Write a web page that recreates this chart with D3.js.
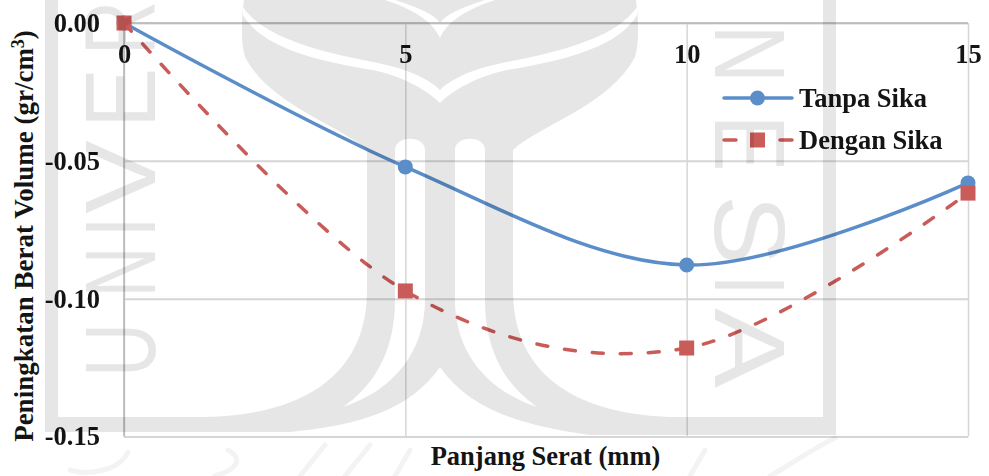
<!DOCTYPE html>
<html>
<head>
<meta charset="utf-8">
<script src="https://cdnjs.cloudflare.com/ajax/libs/d3/7.8.5/d3.min.js"></script>
<style>
  html, body { margin: 0; padding: 0; background: #fff; }
  text { font-family: "Liberation Serif", serif; font-weight: 700; fill: #141414; }
</style>
</head>
<body>
<div id="chart"></div>
<script>
var panjangSerat = [0, 5, 10, 15];
var tanpaSika = [0, -0.0522, -0.0878, -0.058];
var denganSika = [0, -0.0972, -0.1179, -0.0617];
var xTicks = [0, 5, 10, 15];
var yTicks = [0, -0.05, -0.10, -0.15];
var xTitle = "Panjang Serat (mm)";
var yTitle = "Peningkatan Berat Volume (gr/cm";
var seriesNames = ["Tanpa Sika", "Dengan Sika"];

var blue = "#5b8ec9", red = "#c95b59";
var fontSize = "26.5px";
var W = 989, H = 476;
var margin = {top: 23, right: 21, bottom: 39.5, left: 124};
var width = W - margin.left - margin.right;
var height = H - margin.top - margin.bottom;

var root = d3.select("#chart").append("svg")
    .attr("width", W)
    .attr("height", H)
    .style("display", "block");

// ---- watermark behind the chart ----
var mark = root.append("g").attr("class", "watermark");
var markColor = "#e6e6e6";

// shield, leaf and stems as one shape
mark.append("path")
  .attr("fill", markColor)
  .attr("d", "M45,0 H58 V417 H200 C280,417 367,390 367,290 V150 C340,125 270,105 245,57 C240,40 242,15 244,0 " +
             "H636 C638,15 640,40 635,57 C610,105 540,125 513,150 V290 C513,390 600,417 680,417 H823 V0 H836 V435 " +
             "H590 C520,425 470,410 440,367 C410,410 360,425 290,432 H45 Z");

// white cuts: two curves in the leaf and two slits between the stems
var cuts = [
  "M243,7 C262,35 310,50 373,62 C405,68 428,78 440,90 C452,78 475,68 507,62 C570,50 618,35 637,7 L637,15 " +
    "C620,45 570,60 507,70 C480,76 455,88 440,103 C425,88 400,76 373,70 C310,60 260,45 243,15 Z",
  "M395,0 C420,8 435,15 440,23 C445,15 460,8 485,0 H495 C465,10 447,22 440,38 C433,22 415,10 385,0 Z",
  "M395,150 C395,135 425,135 425,150 V300 C425,350 395,390 343,407 C375,385 395,350 395,300 Z",
  "M485,150 C485,135 455,135 455,150 V300 C455,350 485,390 537,407 C505,385 485,350 485,300 Z"
];
mark.selectAll("path.cut")
  .data(cuts)
  .enter()
  .append("path")
    .attr("class", "cut")
    .attr("fill", "#fff")
    .attr("d", function(d) { return d; });

// faint calligraphy under the shield
mark.append("path")
  .attr("fill", "none")
  .attr("stroke", "#f3f3f3")
  .attr("stroke-width", 5)
  .attr("stroke-linecap", "round")
  .attr("d", "M70,470 C90,476 120,470 128,452 M215,476 C235,470 245,460 228,450 M300,476 L325,445 M345,476 L370,445 " +
             "M395,476 L410,450 M690,476 L705,450 M770,476 C790,465 810,450 835,438");

// university name, letter by letter: [letter, centre along the edge, width squeeze]
var leftLetters = [["U", 350, 0.75], ["N", 272, 0.7], ["I", 227, 0.75], ["V", 177, 1.1], ["E", 98, 0.9], ["R", 28, 0.75]];
var rightLetters = [["N", 54, 0.8], ["E", 143, 0.85], ["S", 230, 1.05], ["I", 285, 0.75], ["A", 348, 1.2]];
function drawLetters(cls, letters, baseX, angle) {
  mark.selectAll("text." + cls)
    .data(letters)
    .enter()
    .append("text")
      .attr("class", cls)
      .attr("transform", function(d) {
        return "translate(" + baseX + "," + d[1] + ") rotate(" + angle + ") scale(" + d[2] + ",1)";
      })
      .attr("text-anchor", "middle")
      .style("font-family", "Liberation Sans")
      .style("font-weight", 400)
      .style("font-size", "100px")
      .style("fill", markColor)
      .text(function(d) { return d[0]; });
}
drawLetters("left", leftLetters, 155, -90);
drawLetters("right", rightLetters, 715, 90);

// everything below multiplies over the watermark, like the scanned page
var svg = root.append("g")
    .attr("transform", "translate(" + margin.left + "," + margin.top + ")")
    .style("mix-blend-mode", "multiply");

// ---- scales ----
var x = d3.scaleLinear().domain([0, 15]).range([0, width]);
var y = d3.scaleLinear().domain([0, -0.15]).range([0, height]);

// ---- grid ----
var gridX = svg.append("g")
    .call(d3.axisBottom(x).tickValues(xTicks).tickSize(height).tickFormat(""));
gridX.select(".domain").remove();
gridX.selectAll("text").remove();
gridX.selectAll("line")
    .attr("stroke", "#d6d6d6")
    .attr("stroke-width", 1.5);

var gridY = svg.append("g")
    .call(d3.axisRight(y).tickValues(yTicks).tickSize(width).tickFormat(""));
gridY.select(".domain").remove();
gridY.selectAll("text").remove();
gridY.selectAll("line")
    .attr("stroke", "#d6d6d6")
    .attr("stroke-width", 2);

// left axis and the zero line are a bit stronger
svg.append("line")
    .attr("x1", x(0)).attr("x2", x(0))
    .attr("y1", y(0)).attr("y2", y(-0.15))
    .attr("stroke", "#b4b4b4").attr("stroke-width", 1.5);
svg.append("line")
    .attr("x1", x(0)).attr("x2", x(15))
    .attr("y1", y(0)).attr("y2", y(0))
    .attr("stroke", "#b4b4b4").attr("stroke-width", 1.5);

// ---- tick labels ----
var xAxis = svg.append("g")
    .call(d3.axisBottom(x).tickValues(xTicks).tickSize(0).tickPadding(21.5).tickFormat(d3.format("d")));
xAxis.select(".domain").remove();
xAxis.selectAll("text").style("font-size", fontSize).style("font-family", "Liberation Serif");

var yAxis = svg.append("g")
    .call(d3.axisLeft(y).tickValues(yTicks).tickSize(0).tickPadding(24)
      .tickFormat(function(d) { return d3.format(".2f")(d).replace("\u2212", "-"); }));
yAxis.select(".domain").remove();
yAxis.selectAll("text").style("font-size", fontSize).style("font-family", "Liberation Serif");

// ---- axis titles ----
root.append("text")
    .attr("x", 545.5)
    .attr("y", 465)
    .attr("text-anchor", "middle")
    .style("font-size", fontSize)
    .text(xTitle);

var yTitleText = root.append("text")
    .attr("transform", "translate(33,236) rotate(-90)")
    .attr("text-anchor", "middle")
    .style("font-size", "27px")
    .text(yTitle);
yTitleText.append("tspan")
    .attr("dy", -9)
    .style("font-size", "18px")
    .text("3");
yTitleText.append("tspan")
    .attr("dy", 9)
    .text(")");

// ---- lines ----
var line = d3.line()
    .x(function(d, i) { return x(panjangSerat[i]); })
    .y(function(d) { return y(d); })
    .curve(d3.curveCardinal.tension(0));

svg.append("path")
    .datum(tanpaSika)
    .attr("fill", "none")
    .attr("stroke", blue)
    .attr("stroke-width", 3.5)
    .attr("d", line);

svg.append("path")
    .datum(denganSika)
    .attr("fill", "none")
    .attr("stroke", red)
    .attr("stroke-width", 3.5)
    .attr("stroke-linecap", "round")
    .attr("stroke-dasharray", "11,17")
    .attr("d", line);

svg.selectAll("circle.tanpa")
  .data(tanpaSika)
  .enter()
  .append("circle")
    .attr("class", "tanpa")
    .attr("cx", function(d, i) { return x(panjangSerat[i]); })
    .attr("cy", function(d) { return y(d); })
    .attr("r", 7.5)
    .attr("fill", blue);

svg.selectAll("rect.dengan")
  .data(denganSika)
  .enter()
  .append("rect")
    .attr("class", "dengan")
    .attr("x", function(d, i) { return x(panjangSerat[i]) - 7.5; })
    .attr("y", function(d) { return y(d) - 7.5; })
    .attr("width", 15)
    .attr("height", 15)
    .attr("fill", red);

// ---- legend ----
var legend = root.append("g").style("mix-blend-mode", "multiply");
var legendY = [98, 140];
legend.selectAll("line")
  .data(seriesNames)
  .enter()
  .append("line")
    .attr("x1", 724)
    .attr("x2", 792)
    .attr("y1", function(d, i) { return legendY[i]; })
    .attr("y2", function(d, i) { return legendY[i]; })
    .attr("stroke", function(d, i) { return i == 0 ? blue : red; })
    .attr("stroke-width", 3.5)
    .attr("stroke-linecap", "round")
    .attr("stroke-dasharray", function(d, i) { return i == 0 ? null : "12,44"; });
legend.append("circle")
    .attr("cx", 757.5).attr("cy", legendY[0]).attr("r", 7.5).attr("fill", blue);
legend.append("rect")
    .attr("x", 750).attr("y", legendY[1] - 7.5).attr("width", 15).attr("height", 15).attr("fill", red);
legend.selectAll("text")
  .data(seriesNames)
  .enter()
  .append("text")
    .attr("x", 799)
    .attr("y", function(d, i) { return legendY[i] + 8.5; })
    .style("font-size", fontSize)
    .text(function(d) { return d; });
</script>
</body>
</html>
